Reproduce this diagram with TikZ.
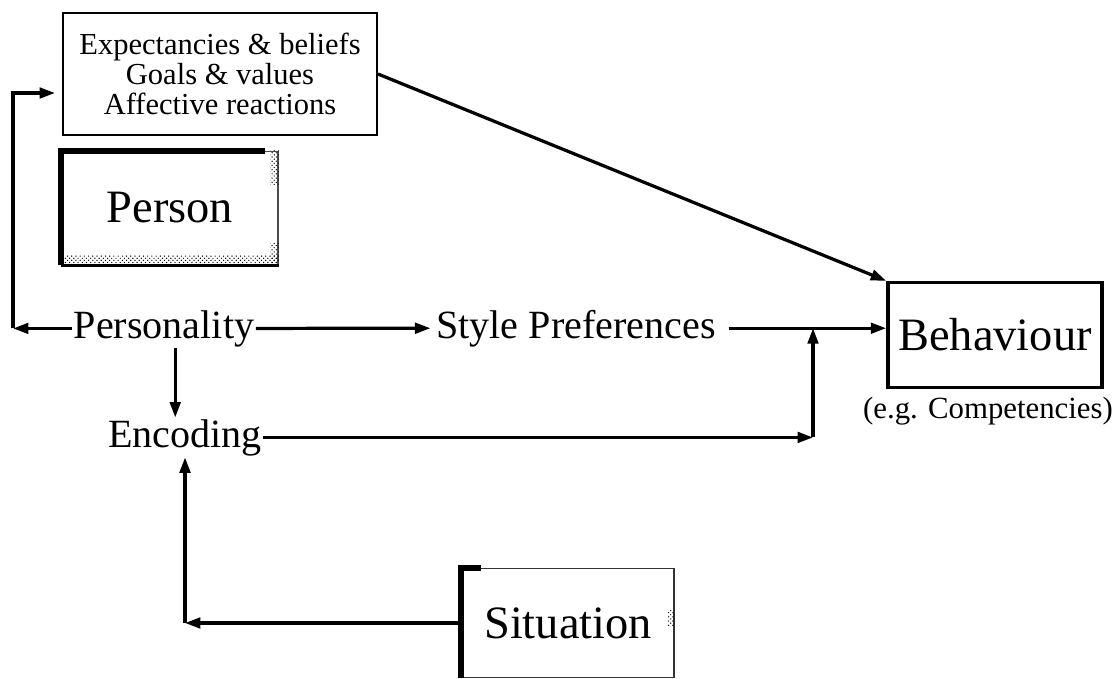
\documentclass[tikz,border=0pt]{standalone}
\usepackage{fontspec}
\setmainfont{Liberation Serif}
\usepackage{tikz}
\usetikzlibrary{calc}
\usetikzlibrary{arrows.meta}
\usetikzlibrary{patterns}

\begin{document}
\begin{tikzpicture} [x=0.025cm, y=-0.025cm,
  arr/.style={line width=2.3pt, -{Triangle[length=11pt, width=7.5pt]}},
  lbl/.style={inner sep=1pt, font=\fontsize{28.5}{30}\selectfont},
  bigtxt/.style={inner sep=0pt, font=\fontsize{33}{36}\selectfont}]
\useasboundingbox (0,0) rectangle (1118,678);

% boxes
\node[draw, line width=1.3pt, minimum width=7.85cm, minimum height=3.05cm, align=center, inner sep=0pt, font=\fontsize{21.7}{21.3}\selectfont] (beliefs) at (220,74) {Expectancies \& beliefs\\Goals \& values\\Affective reactions};

\node[bigtxt, draw=black!70, line width=1pt, minimum width=5.4cm, minimum height=2.83cm] (person) at (170,208) {Person};
\fill[pattern=crosshatch dots, pattern color=black] (person.north east) rectangle ([xshift=-6pt, yshift=-24pt]person.north east);
\fill[pattern=crosshatch dots, pattern color=black] ([yshift=7pt]person.south west) rectangle (person.south east);
\fill[pattern=crosshatch dots, pattern color=black] ([yshift=16pt]person.south east) rectangle ([xshift=-6pt]person.south east);
\draw[line width=2pt] (person.south west) -- (person.south east);
\draw[line width=4.5pt] (person.south west) -- (person.north west) -- ([xshift=-10pt]person.north east);

\node[bigtxt, draw, line width=2.5pt, minimum width=5.35cm, minimum height=2.62cm] (behaviour) at (995,335) {Behaviour};
\node[inner sep=1pt, anchor=base, font=\fontsize{21.9}{24}\selectfont] (examples) at (988,418) {(e.g. Competencies)};

\node[bigtxt, draw=black!80, line width=1.2pt, minimum width=5.3cm, minimum height=2.72cm] (situation) at (568,623) {Situation};
\fill[pattern=crosshatch dots, pattern color=black] ([yshift=-30pt]situation.north east) rectangle ([xshift=-5pt, yshift=-42pt]situation.north east);
\draw[line width=4pt] (situation.south west) -- (situation.north west) -- ([xshift=14pt]situation.north west);

% labels
\node[lbl, anchor=base] (personality) at (164,338) {Personality};
\node[lbl, anchor=base] (style) at (576,338) {Style Preferences};
\node[lbl, anchor=base] (encoding) at (185,447) {Encoding};

\coordinate (tl) at (13,93);
\coordinate (join) at (813,0);

% connectors
\draw[arr] (beliefs.east) -- (behaviour.north west);
\draw[arr] (personality.west) -- (personality.west -| tl);
\draw[arr] (personality.west -| tl) -- (tl) -- ([xshift=-5pt]tl -| beliefs.west);
\draw[arr] (personality.east) -- ([xshift=-3pt]style.west);
\draw[arr] ([xshift=8pt]style.east) -- (style.east -| behaviour.west);
\draw[arr] ([xshift=8pt]personality.south) -- ([xshift=8pt]personality.south |- encoding.north);
\draw[arr] (encoding.east) -- (encoding.east -| join);
\draw[arr] (encoding.east -| join) -- (style.east -| join);
\draw[arr] (situation.west) -- (situation.west -| encoding.south);
\draw[arr] (situation.west -| encoding.south) -- (encoding.south);

\end{tikzpicture}
\end{document}
